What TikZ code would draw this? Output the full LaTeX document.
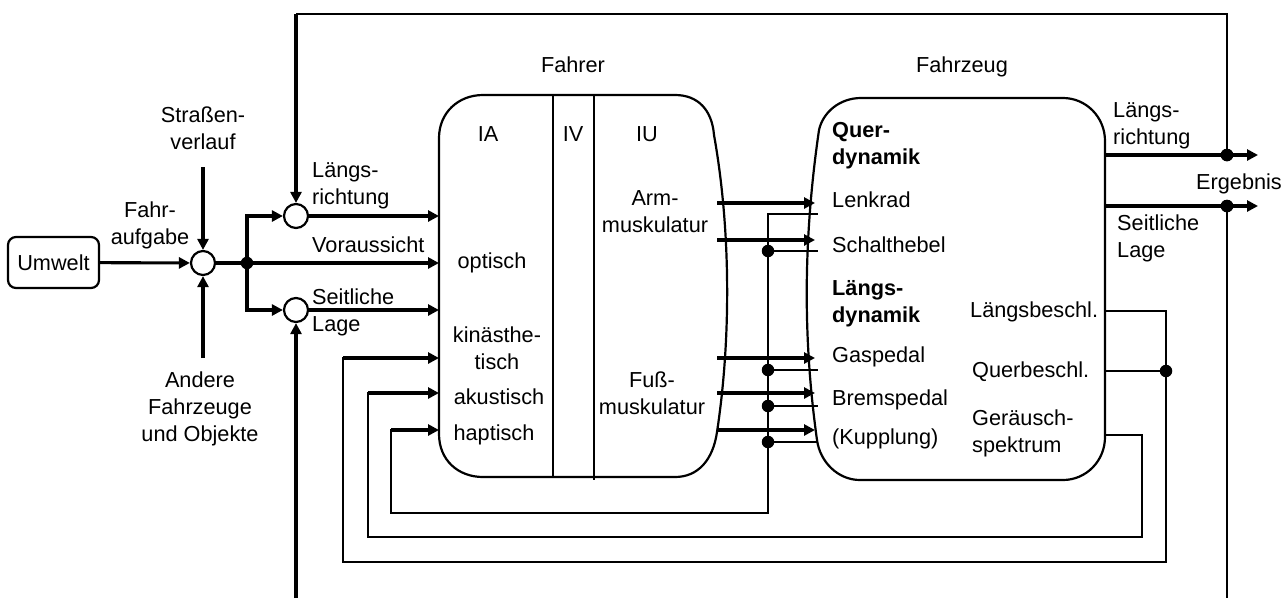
\documentclass[tikz,border=0pt]{standalone}
\usepackage{fontspec}
\setmainfont{Liberation Sans}
\usetikzlibrary{arrows.meta}
\newcommand{\dfont}{\fontsize{21.7}{27}\selectfont}
\begin{document}
\begin{tikzpicture}[x=1pt,y=-1pt,
  thk/.style={line width=3.1pt},
  thn/.style={line width=2pt, line cap=rect},
  arr/.style={thk,-{Triangle[length=11pt,width=11pt]}},
  lbl/.style={inner sep=0pt, font=\dfont, align=center, anchor=base},
  lbll/.style={inner sep=0pt, font=\dfont, align=left, anchor=base west},
  sum/.style={circle, draw, line width=2.2pt, minimum size=24pt, inner sep=0pt},
  dot/.style={circle, fill, inner sep=0pt, minimum size=12.5pt},
  box/.style={line width=2.2pt}]
\useasboundingbox (0,0) rectangle (1285,598);

% ---------- boxes ----------
\draw[box] (483,95) -- (675,95) .. controls (698,95) and (712,110) .. (714,135)
  .. controls (731,230) and (731,340) .. (717,432)
  .. controls (713,460) and (698,477) .. (675,477) -- (483,477)
  .. controls (458,477) and (439,460) .. (439,434) -- (439,138)
  .. controls (439,113) and (458,95) .. (483,95) -- cycle;
\draw[box] (553,95) -- (553,477);
\draw[box] (594,95) -- (594,480);

\draw[box] (861,98) -- (1063,98) .. controls (1086,98) and (1105,117) .. (1105,141)
  -- (1105,437) .. controls (1105,461) and (1086,480) .. (1063,480) -- (860,480)
  .. controls (838,480) and (820,462) .. (817,440)
  .. controls (803,340) and (803,240) .. (819,130)
  .. controls (823,112) and (840,98) .. (861,98) -- cycle;

% ---------- left part ----------
\node[draw, line width=2.2pt, rounded corners=8pt, minimum width=91pt, minimum height=51pt,
      font=\dfont, inner sep=0pt] (umw) at (53.5,262.5) {Umwelt};
\node[sum] (s1) at (203,263) {};
\node[sum] (s2) at (296,216) {};
\node[sum] (s3) at (296,310) {};
\node[dot] (j) at (247,263) {};

\coordinate (sv) at (203,167);
\coordinate (af) at (203,358);
\coordinate (inL) at (439,216);
\coordinate (inV) at (439,263);
\coordinate (inS) at (439,310);
\coordinate (inK) at (439,358);
\coordinate (inA) at (439,393);
\coordinate (inH) at (439,430);

\draw[arr] (umw) -- (s1);
\draw[arr] (sv) -- (s1);
\draw[arr] (af) -- (s1);
\draw[thk] (s1) -- (j);
\draw[arr] (j) -- (inV);
\draw[arr] (j.center) |- (s2);
\draw[arr] (j.center) |- (s3);
\draw[arr] (s2) -- (inL);
\draw[arr] (s3) -- (inS);

% ---------- frame ----------
\node[dot] (d1) at (1227,155) {};
\node[dot] (d2) at (1227,206) {};
\coordinate (ftl) at (296,14);
\coordinate (ftr) at (1227,14);
\coordinate (fbr) at (1227,598);
\coordinate (fbl) at (296,598);
\draw[line width=2.4pt] (d1.center) -- (ftr) -- (ftl);
\draw[arr] (ftl) -- (s2);
\draw[arr] (fbl) -- (s3);
\draw[line width=2.4pt] (d2.center) -- (fbr);

% ---------- outputs ----------
\coordinate (o1s) at (1105,155); \coordinate (o1e) at (1258,155);
\coordinate (o2s) at (1105,206); \coordinate (o2e) at (1258,206);
\draw[arr] (o1s) -- (o1e);
\draw[arr] (o2s) -- (o2e);
\node[dot] at (d1) {};
\node[dot] at (d2) {};

% ---------- driver -> vehicle ----------
\foreach \yy [count=\i] in {203,240,358,393,430} {
  \coordinate (ms\i) at (717,\yy);
  \coordinate (me\i) at (815,\yy);
  \draw[arr] (ms\i) -- (me\i);
}

% ---------- inner feedback (controls -> haptisch) ----------
\coordinate (h0) at (817,214);
\coordinate (h1) at (768,214);
\coordinate (h2) at (768,513);
\coordinate (h3) at (391,513);
\coordinate (h4) at (391,430);
\draw[thn] (h0) -- (h1) -- (h2) -- (h3) -- (h4);
\draw[arr] (h4) -- (inH);
\foreach \yy [count=\i] in {251,370,406,442} {
  \node[dot] (hd\i) at (768,\yy) {};
  \coordinate (he\i) at (817,\yy);
  \draw[thn] (hd\i.center) -- (he\i);
}

% ---------- Geraeuschspektrum -> akustisch ----------
\coordinate (gs) at (1105,435);
\coordinate (g1) at (1142,435);
\coordinate (g2) at (1142,537);
\coordinate (g3) at (368,537);
\coordinate (g4) at (368,393);
\draw[thn] (gs) -- (g1) -- (g2) -- (g3) -- (g4);
\draw[arr] (g4) -- (inA);

% ---------- Beschleunigungen -> kinaesthetisch ----------
\coordinate (lb) at (1105,311);
\coordinate (lbc) at (1166,311);
\coordinate (qb) at (1105,371);
\node[dot] (qd) at (1166,371) {};
\coordinate (k0) at (1166,562);
\coordinate (k1) at (343,562);
\coordinate (k2) at (343,358);
\draw[thn] (lb) -- (lbc) -- (k0) -- (k1) -- (k2);
\draw[thn] (qb) -- (qd.center);
\draw[arr] (k2) -- (inK);

% ---------- labels (multi-line: y = baseline of last line) ----------
\node[lbl] (tsv) at (203,149) {Straßen-\\verlauf};
\node[lbl] (tfa) at (150,244) {Fahr-\\aufgabe};
\node[lbl] (tan) at (200,441) {Andere\\Fahrzeuge\\und Objekte};
\node[lbll] (tlr) at (312,204) {Längs-\\richtung};
\node[lbll] (tvo) at (312,252) {Voraussicht};
\node[lbll] (tsl) at (312,331) {Seitliche\\Lage};

\node[lbl] (tfahrer) at (573,72) {Fahrer};
\node[lbl] (tfzg) at (962,72) {Fahrzeug};
\node[lbl] (tia) at (488,141) {IA};
\node[lbl] (tiv) at (573,141) {IV};
\node[lbl] (tiu) at (647,141) {IU};
\node[lbl] (topt) at (492,268) {optisch};
\node[lbl] (tkin) at (497,369) {kinästhe-\\tisch};
\node[lbl] (takus) at (499,404) {akustisch};
\node[lbl] (thap) at (494,440) {haptisch};
\node[lbl] (tarm) at (655,232) {Arm-\\muskulatur};
\node[lbl] (tfuss) at (652,414) {Fuß-\\muskulatur};

\node[lbll, font=\dfont\bfseries] (tqd) at (832,164) {Quer-\\dynamik};
\node[lbll] (tlenk) at (832,207) {Lenkrad};
\node[lbll] (tschalt) at (832,252) {Schalthebel};
\node[lbll, font=\dfont\bfseries] (tld) at (832,322) {Längs-\\dynamik};
\node[lbll] (tgas) at (832,362) {Gaspedal};
\node[lbll] (tbrems) at (832,405) {Bremspedal};
\node[lbll] (tkupp) at (832,444) {(Kupplung)};
\node[lbll] (tlb) at (970,317) {Längsbeschl.};
\node[lbll] (tqb) at (972,377) {Querbeschl.};
\node[lbll] (tgs) at (972,452) {Geräusch-\\spektrum};

\node[lbll] (tolr) at (1113,144) {Längs-\\richtung};
\node[lbl] (terg) at (1239,189) {Ergebnis};
\node[lbll] (tosl) at (1117,257) {Seitliche\\Lage};
\end{tikzpicture}
\end{document}
